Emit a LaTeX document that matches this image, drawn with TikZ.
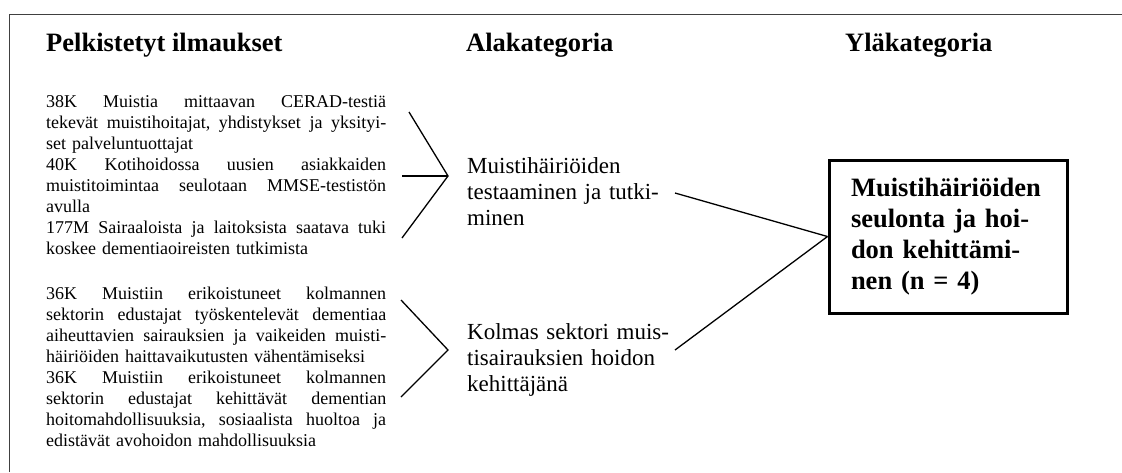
\documentclass[tikz,border=0pt]{standalone}
\usepackage{fontspec}
\setmainfont{Liberation Serif}
\newcommand{\myjl}[1]{\noindent\hbox to 340pt{#1}\par}
\newcommand{\mypl}[1]{\noindent\hbox{#1}\par}
\begin{document}
\begin{tikzpicture}[x=1pt,y=-1pt,
  frameline/.style={draw=black!75,line width=1.6pt},
  conn/.style={draw=black,line width=1.3pt},
  header/.style={inner sep=0pt,anchor=base west,font=\fontsize{26.5}{30}\selectfont\bfseries},
  lefttext/.style={inner sep=0pt,anchor=base west,text width=340pt,align=left,font=\fontsize{18}{21}\selectfont},
  midtext/.style={inner sep=0pt,anchor=base west,text width=220pt,align=left,font=\fontsize{23}{26.3}\selectfont},
  resultbox/.style={draw=black,line width=3pt,minimum width=238pt,minimum height=153pt,text width=194pt,align=left,inner sep=0pt,font=\fontsize{26.5}{31}\selectfont\bfseries}
]
\useasboundingbox (0,0) rectangle (1122,472);
\fill[white] (0,0) rectangle (1122,472);
\draw[frameline] (9.5,472) |- (1122,14.5);

\node[header] (h1) at (46,51) {Pelkistetyt ilmaukset};
\node[header] (h2) at (466,51) {Alakategoria};
\node[header] (h3) at (845,51) {Yläkategoria};

\node[lefttext] (p1) at (46,107) {%
\myjl{38K\hfill Muistia\hfill mittaavan\hfill CERAD-testiä}
\myjl{tekevät\hfill muistihoitajat,\hfill yhdistykset\hfill ja\hfill yksityi-}
\mypl{set palveluntuottajat}
\myjl{40K\hfill Kotihoidossa\hfill uusien\hfill asiakkaiden}
\myjl{muistitoimintaa\hfill seulotaan\hfill MMSE-testistön}
\mypl{avulla}
\myjl{177M\hfill Sairaaloista\hfill ja\hfill laitoksista\hfill saatava\hfill tuki}
\mypl{koskee dementiaoireisten tutkimista}};

\node[lefttext] (p2) at (46,299) {%
\myjl{36K\hfill Muistiin\hfill erikoistuneet\hfill kolmannen}
\myjl{sektorin\hfill edustajat\hfill työskentelevät\hfill dementiaa}
\myjl{aiheuttavien\hfill sairauksien\hfill ja\hfill vaikeiden\hfill muisti-}
\mypl{häiriöiden haittavaikutusten vähentämiseksi}
\myjl{36K\hfill Muistiin\hfill erikoistuneet\hfill kolmannen}
\myjl{sektorin\hfill edustajat\hfill kehittävät\hfill dementian}
\myjl{hoitomahdollisuuksia,\hfill sosiaalista\hfill huoltoa\hfill ja}
\mypl{edistävät avohoidon mahdollisuuksia}};

\node[midtext] (m1) at (467,173) {Muistihäiriöiden\\testaaminen ja tutki-\\minen};
\node[midtext] (m2) at (467,339) {Kolmas sektori muis-\\tisairauksien hoidon\\kehittäjänä};

\node[resultbox] (box) at (948,236.5) {Muistihäiriöiden\\seulonta ja hoi-\\don kehittämi-\\nen (n = 4)};

% bracket 1
\coordinate (a1t) at (409,112);
\coordinate (a1m) at (402,176);
\coordinate (a1b) at (402,238);
\coordinate (a1x) at (448,176);
\draw[conn] (a1t) -- (a1x) -- (a1b);
\draw[conn] (a1m) -- (a1x);
% bracket 2
\coordinate (a2t) at (401,300);
\coordinate (a2b) at (401,397);
\coordinate (a2x) at (448,350);
\draw[conn] (a2t) -- (a2x) -- (a2b);
% to box
\coordinate (c1) at (675,193);
\coordinate (c2) at (675,350);
\draw[conn] (c1) -- (box.west);
\draw[conn] (c2) -- (box.west);
\end{tikzpicture}
\end{document}
